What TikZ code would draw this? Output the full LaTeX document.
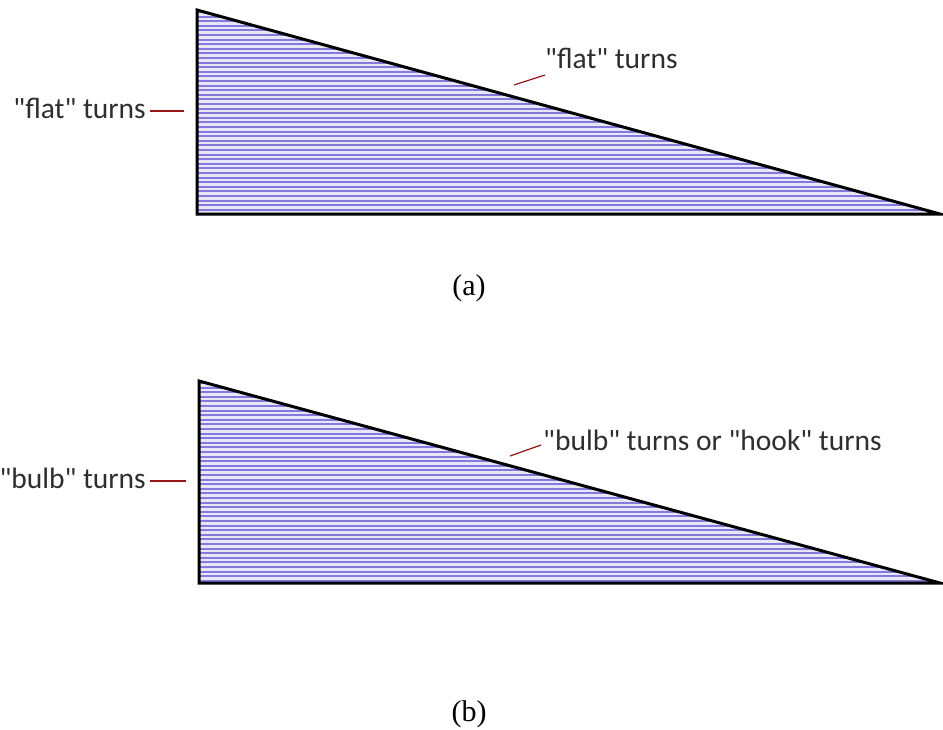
\documentclass[tikz,border=0pt]{standalone}
\usepackage{fontspec}
\setmainfont{Liberation Serif}
\newfontfamily\labfont{Carlito}
\newfontfamily\capfont{Liberation Serif}
\definecolor{hatch}{RGB}{130,122,220}
\definecolor{hatchbg}{RGB}{232,230,248}
\definecolor{leader}{RGB}{150,20,20}
\tikzset{
  tri/.style={draw=black, line width=3pt, line join=miter},
  lab/.style={font=\labfont\fontsize{29.5}{33}\selectfont, inner sep=0pt, text=black!82},
  captext/.style={font=\capfont\fontsize{30}{34}\selectfont, inner sep=0pt},
  lead/.style={draw=leader, line width=1.2pt}
}
\begin{document}
\begin{tikzpicture}[x=1pt,y=-1pt]
\useasboundingbox (0,0) rectangle (943,729);
% triangle (a)
\coordinate (a1) at (197,10);
\coordinate (a2) at (197,214);
\coordinate (a3) at (940,214);
\begin{scope}
\clip (a1) -- (a2) -- (a3) -- cycle;
\fill[hatchbg] (a1) -- (a2) -- (a3) -- cycle;
\foreach \y in {12,16.6,...,214} \draw[hatch, line width=2pt] (190,\y) -- (945,\y);
\end{scope}
\draw[tri] (a1) -- (a2) -- (a3) -- cycle;
% triangle (b)
\coordinate (b1) at (199,381);
\coordinate (b2) at (199,583);
\coordinate (b3) at (940,583);
\begin{scope}
\clip (b1) -- (b2) -- (b3) -- cycle;
\fill[hatchbg] (b1) -- (b2) -- (b3) -- cycle;
\foreach \y in {383,387.6,...,583} \draw[hatch, line width=2pt] (190,\y) -- (945,\y);
\end{scope}
\draw[tri] (b1) -- (b2) -- (b3) -- cycle;
% labels (a)
\node[lab, anchor=east] (la) at (146,108) {"flat" turns};
\coordinate (la1) at (150,111);
\coordinate (la2) at (184,111);
\draw[lead] (la1) -- (la2);
\node[lab, anchor=west] (ta) at (545,58) {"flat" turns};
\coordinate (ta1) at (514,85);
\coordinate (ta2) at (545,75);
\draw[lead] (ta1) -- (ta2);
\node[captext] (capa) at (469,288) {(a)};
% labels (b)
\node[lab, anchor=east] (lb) at (146,478) {"bulb" turns};
\coordinate (lb1) at (150,481);
\coordinate (lb2) at (186,481);
\draw[lead] (lb1) -- (lb2);
\node[lab, anchor=west] (tb) at (543,440) {"bulb" turns or "hook" turns};
\coordinate (tb1) at (510,456);
\coordinate (tb2) at (541,445);
\draw[lead] (tb1) -- (tb2);
\node[captext] (capb) at (469,714) {(b)};
\end{tikzpicture}
\end{document}
